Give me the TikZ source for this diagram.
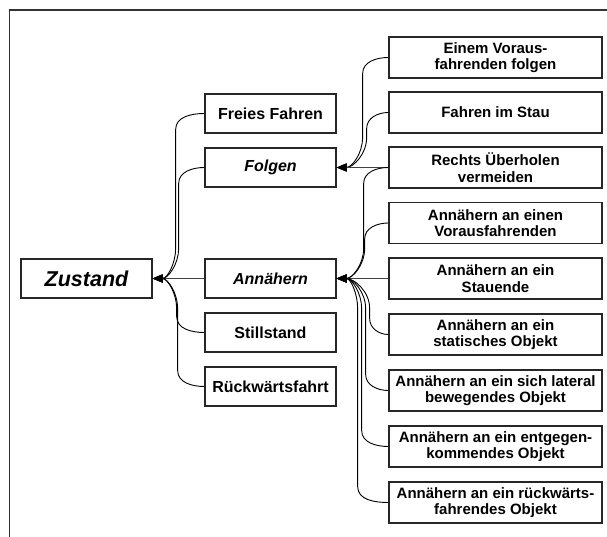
\documentclass[tikz,border=0pt]{standalone}
\usepackage{fontspec}
\setmainfont{Liberation Sans}
\usetikzlibrary{arrows.meta,calc}
% curved connector from a child above its parent (#1 child, #2 parent, #3 offset of the vertical run)
\newcommand\downlink[3]{%
  \draw[conn] (#1.west) to[out=180,in=90] ($(#2.east |- #1.west)+(#3,16)$)
    -- ($(#2.east)+(#3,-30)$) to[out=-90,in=0] (#2.east);}
% curved connector from a child below its parent
\newcommand\uplink[3]{%
  \draw[conn] (#1.west) to[out=180,in=-90] ($(#2.east |- #1.west)+(#3,-16)$)
    -- ($(#2.east)+(#3,30)$) to[out=90,in=0] (#2.east);}
\begin{document}
\begin{tikzpicture}[x=1pt,y=-1pt,
  box/.style={draw=black!85, line width=1.3pt, fill=white, align=center, inner sep=1pt},
  rootbox/.style={box, minimum width=131pt, minimum height=39pt, font=\fontsize{21.5}{24}\selectfont\bfseries\itshape},
  midbox/.style={box, minimum width=131pt, minimum height=39pt, font=\fontsize{16}{18}\selectfont\bfseries},
  leafbox/.style={box, minimum width=213pt, minimum height=41pt, font=\fontsize{15}{16.5}\selectfont\bfseries},
  tip/.style={-{Triangle[length=10pt,width=8pt,black]}},
  conn/.style={draw=black, line width=0.9pt, tip},
  straight/.style={draw=black!75, line width=0.8pt, tip},
  frame/.style={draw=black!80, line width=1.5pt}
]
\useasboundingbox (0,0) rectangle (607,537);

% frame (top and left edges)
\coordinate (fa) at (607,10);
\coordinate (fb) at (9.5,10);
\coordinate (fc) at (9.5,537);
\draw[frame] (fa) -- (fb) -- (fc);

% root
\node[rootbox] (zustand) at (86.5,278.5) {Zustand};

% states
\node[midbox] (freies) at (270.5,113.5) {Freies Fahren};
\node[midbox] (folgen) at (270.5,167.5) {\itshape Folgen};
\node[midbox] (ann)    at (270.5,278.5) {\itshape Annähern};
\node[midbox] (still)  at (270.5,332.5) {Stillstand};
\node[midbox] (rueck)  at (270.5,386.5) {Rückwärtsfahrt};

% situations
\node[leafbox] (einem)  at (495.5,57.5)  {Einem Voraus-\\fahrenden folgen};
\node[leafbox] (stau)   at (495.5,112.5) {Fahren im Stau};
\node[leafbox] (rechts) at (495.5,167.5) {Rechts Überholen\\vermeiden};
\node[leafbox] (vor)    at (495.5,223)   {Annähern an einen\\Vorausfahrenden};
\node[leafbox] (ende)   at (495.5,278.5) {Annähern an ein\\Stauende};
\node[leafbox] (stat)   at (495.5,334.5) {Annähern an ein\\statisches Objekt};
\node[leafbox] (lat)    at (495.5,390.5) {Annähern an ein sich lateral\\bewegendes Objekt};
\node[leafbox] (ent)    at (495.5,446.5) {Annähern an ein entgegen-\\kommendes Objekt};
\node[leafbox] (rw)     at (495.5,502.5) {Annähern an ein rückwärts-\\fahrendes Objekt};

% connectors into Zustand
\downlink{freies}{zustand}{23}
\downlink{folgen}{zustand}{26}
\draw[straight] (ann.west) -- (zustand.east);
\uplink{still}{zustand}{24}
\uplink{rueck}{zustand}{25}

% connectors into Folgen
\downlink{einem}{folgen}{26}
\downlink{stau}{folgen}{30}
\draw[straight] (rechts.west) -- (folgen.east);

% connectors into Annähern
\downlink{rechts}{ann}{27}
\downlink{vor}{ann}{28}
\draw[straight] (ende.west) -- (ann.east);
\uplink{stat}{ann}{33}
\uplink{lat}{ann}{29}
\uplink{ent}{ann}{25}
\uplink{rw}{ann}{21}
\end{tikzpicture}
\end{document}
